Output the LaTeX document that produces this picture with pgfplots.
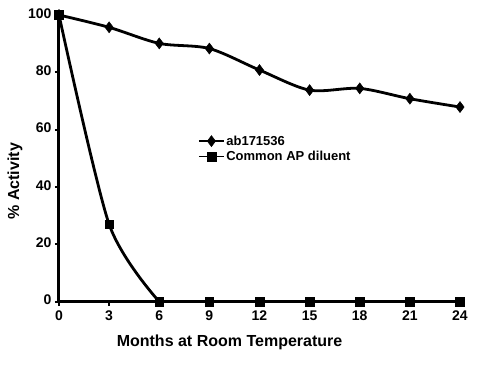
\documentclass[border=0pt]{standalone}
\usepackage{fontspec}
\setmainfont{Liberation Sans}
\newfontfamily\legfont[Scale=1.3]{Liberation Sans}
\usepackage{pgfplots}
\pgfplotsset{compat=1.18}
\begin{document}
\begin{tikzpicture}[x=1pt,y=1pt]
\useasboundingbox (-59,-68.3) rectangle (441,301.7);
\begin{axis}[
  at={(0,0)}, anchor=south west,
  scale only axis,
  width=406pt, height=286.7pt,
  xmin=0, xmax=24.3, ymin=0, ymax=100,
  axis x line*=bottom, axis y line*=left,
  axis line style={line width=3pt, -},
  xtick={0,3,...,24}, ytick={0,20,...,100},
  tick style={black, line width=2pt},
  tick align=outside, major tick length=4pt,
  ticklabel style={font=\bfseries\fontsize{14}{16}\selectfont},
  typeset ticklabels with strut,
  /pgf/number format/assume math mode=true,
  xlabel={\bfseries Months at Room Temperature},
  ylabel={\bfseries \% Activity},
  label style={font=\bfseries\fontsize{16}{18}\selectfont},
  xlabel style={at={(axis description cs:0.42,0)}, anchor=center, yshift=-41pt},
  ylabel style={at={(axis description cs:0,0.42)}, anchor=center, yshift=44pt},
  legend style={draw=none, fill=none, at={(axis description cs:0.342,0.585)}, anchor=north west,
    row sep=1.5pt, inner sep=0pt, nodes={inner sep=1.5pt}},
  legend cell align=left,
  legend image code/.code={\draw[line width=1.8pt] (0pt,0pt) -- (25pt,0pt); \draw[#1, line width=1pt] plot coordinates {(12.5pt,0pt)};},
  clip=false,
]
\addplot[black, line width=2.8pt, smooth, tension=0.5, mark=diamond*, mark size=5.5pt, mark options={solid, line width=0.5pt}]
coordinates {(0,100) (3,95.7) (6,90.1) (9,88.3) (12,80.8) (15,73.8) (18,74.4) (21,70.8) (24,67.9)};
\addlegendentry{\legfont\bfseries ab171536}
\addplot[black, line width=2.8pt, smooth, tension=0.45, mark=square*, mark size=4.3pt, mark options={solid, line width=0.5pt}]
coordinates {(0,100) (3,27) (6,0)};
\addlegendentry{\legfont\bfseries Common AP diluent}
\addplot[black, line width=2.8pt, mark=square*, mark size=4.3pt, mark options={solid, line width=0.5pt}, forget plot]
coordinates {(6,0) (9,0) (12,0) (15,0) (18,0) (21,0) (24,0)};
\end{axis}
\end{tikzpicture}
\end{document}
